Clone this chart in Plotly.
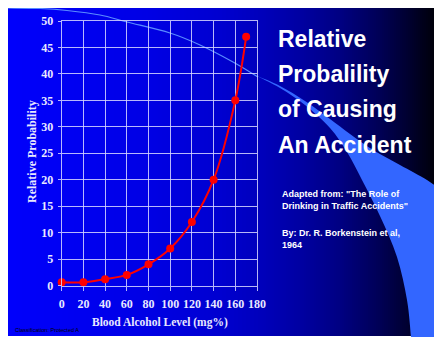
import plotly.graph_objects as go

# ---- data ----
bac_levels = [0, 20, 40, 60, 80, 100, 120, 140, 160, 170]
rel_prob = [0.6, 0.6, 1.2, 2, 4, 7, 12, 20, 35, 47]
x_ticks = [0, 20, 40, 60, 80, 100, 120, 140, 160, 180]
y_ticks = [0, 5, 10, 15, 20, 25, 30, 35, 40, 45, 50]
title_lines = ["Relative", "Probalility", "of Causing", "An Accident"]
source_lines = ['Adapted from: "The Role of', 'Drinking in Traffic Accidents"', "By: Dr. R. Borkenstein et al,", "1964"]

# page has an 8px body margin; work in page pixel coordinates
OFF = 8
W, H = 442 - OFF, 337 - OFF


def px(x):
    return (x - OFF) / W


def py(y):
    return 1 - (y - OFF) / H


def catmull(pts, start="M"):
    s = f"{start} {px(pts[0][0]):.5f},{py(pts[0][1]):.5f} "
    for i in range(len(pts) - 1):
        p0 = pts[i - 1] if i > 0 else pts[i]
        p1 = pts[i]
        p2 = pts[i + 1]
        p3 = pts[i + 2] if i + 2 < len(pts) else pts[i + 1]
        c1 = (p1[0] + (p2[0] - p0[0]) / 6, p1[1] + (p2[1] - p0[1]) / 6)
        c2 = (p2[0] - (p3[0] - p1[0]) / 6, p2[1] - (p3[1] - p1[1]) / 6)
        s += (f"C {px(c1[0]):.5f},{py(c1[1]):.5f} {px(c2[0]):.5f},{py(c2[1]):.5f} "
              f"{px(p2[0]):.5f},{py(p2[1]):.5f} ")
    return s


shapes = []
# background gradient (blue -> black), drawn as thin strips
stops = [(6, 252), (60, 244), (150, 228), (220, 208), (260, 188), (300, 162),
         (340, 130), (380, 85), (410, 45), (436, 8), (442, 0)]


def blue_at(x):
    for (xa, ba), (xb, bb) in zip(stops[:-1], stops[1:]):
        if xa <= x <= xb:
            return ba + (bb - ba) * (x - xa) / (xb - xa)
    return 0


x = OFF
while x < 442:
    b = int(round(blue_at(x + 1)))
    shapes.append(dict(type="rect", xref="paper", yref="paper", x0=px(x), x1=px(min(x + 2.6, 442)),
                       y0=py(336), y1=py(OFF), fillcolor=f"rgb(0,0,{b})",
                       line=dict(width=0), layer="below"))
    x += 2

# light-blue swoosh
outer = [(255, 75), (280, 88), (305, 105), (330, 128), (347, 152), (362, 180),
         (380, 216), (397, 257), (407, 300), (411, 337)]
inner = [(442, 191), (427, 180), (400, 165), (373, 150), (350, 134), (330, 119),
         (305, 101), (280, 86), (255, 75)]
path = catmull(outer)
path += f"L {px(442):.5f},{py(337):.5f} L {px(442):.5f},{py(191):.5f} "
path += catmull(inner, start="L")
path += "Z"
shapes.append(dict(type="path", xref="paper", yref="paper", path=path,
                   fillcolor="#3366FF", line=dict(width=0), layer="below"))
arc = [(8, 8), (40, 8.5), (67, 10.5), (100, 15), (127, 22), (170, 33), (200, 45),
       (233, 62), (258, 77)]
shapes.append(dict(type="path", xref="paper", yref="paper", path=catmull(arc),
                   line=dict(color="#5A8CFF", width=1.2), layer="below"))

grid_col = "rgba(215,215,255,0.85)"
tick_font = dict(family="Liberation Serif", size=12, color="#E8E8FF", weight="bold")

fig = go.Figure()
fig.add_trace(go.Scatter(
    x=bac_levels, y=rel_prob, mode="lines+markers",
    line=dict(color="#FF0000", width=2, shape="spline", smoothing=1),
    marker=dict(color="#FF0000", size=8), cliponaxis=False, showlegend=False,
    hoverinfo="x+y"))

annotations = []
title_y = [39.5, 74, 109, 145]
for t, yy in zip(title_lines, title_y):
    annotations.append(dict(text=t, xref="paper", yref="paper", x=px(276), y=py(yy),
                            xanchor="left", yanchor="middle", showarrow=False,
                            font=dict(family="Liberation Sans", size=23, color="white", weight="bold")))
src_y = [193.5, 205.5, 232.5, 244.5]
for t, yy in zip(source_lines, src_y):
    annotations.append(dict(text=t, xref="paper", yref="paper", x=px(280), y=py(yy),
                            xanchor="left", yanchor="middle", showarrow=False,
                            font=dict(family="Liberation Sans", size=9, color="white", weight="bold")))
annotations.append(dict(text="Blood Alcohol Level (mg%)", xref="paper", yref="paper",
                        x=px(160), y=py(322), xanchor="center", yanchor="middle", showarrow=False,
                        font=dict(family="Liberation Serif", size=11.5, color="#E8E8FF", weight="bold")))
annotations.append(dict(text="Relative Probability", xref="paper", yref="paper", textangle=-90,
                        x=px(32), y=py(152), xanchor="center", yanchor="middle", showarrow=False,
                        font=dict(family="Liberation Serif", size=12, color="#E8E8FF", weight="bold")))
annotations.append(dict(text="Classification: Protected A", xref="paper", yref="paper",
                        x=px(13), y=py(330), xanchor="left", yanchor="middle", showarrow=False,
                        font=dict(family="Liberation Sans", size=5.5, color="black")))

fig.update_layout(
    width=W, height=H, autosize=False,
    margin=dict(l=0, r=0, t=0, b=0, pad=0),
    paper_bgcolor="white", plot_bgcolor="rgba(0,0,0,0)",
    shapes=shapes, annotations=annotations, showlegend=False,
    xaxis=dict(domain=[px(61.7), px(257)], range=[0, 180], tickvals=x_ticks,
               showgrid=True, gridcolor=grid_col, gridwidth=1, zeroline=False,
               showline=True, linecolor=grid_col, linewidth=1, mirror=True,
               ticks="outside", ticklen=4, tickcolor=grid_col, tickfont=tick_font,
               ticklabelstandoff=3, automargin=False, fixedrange=True),
    yaxis=dict(domain=[py(285.5), py(21)], range=[0, 50], tickvals=y_ticks,
               showgrid=True, gridcolor=grid_col, gridwidth=1, zeroline=False,
               showline=True, linecolor=grid_col, linewidth=1, mirror=True,
               ticks="outside", ticklen=3, tickcolor=grid_col, tickfont=tick_font,
               ticklabelstandoff=2, automargin=False, fixedrange=True),
)

fig.write_html("out.html")
